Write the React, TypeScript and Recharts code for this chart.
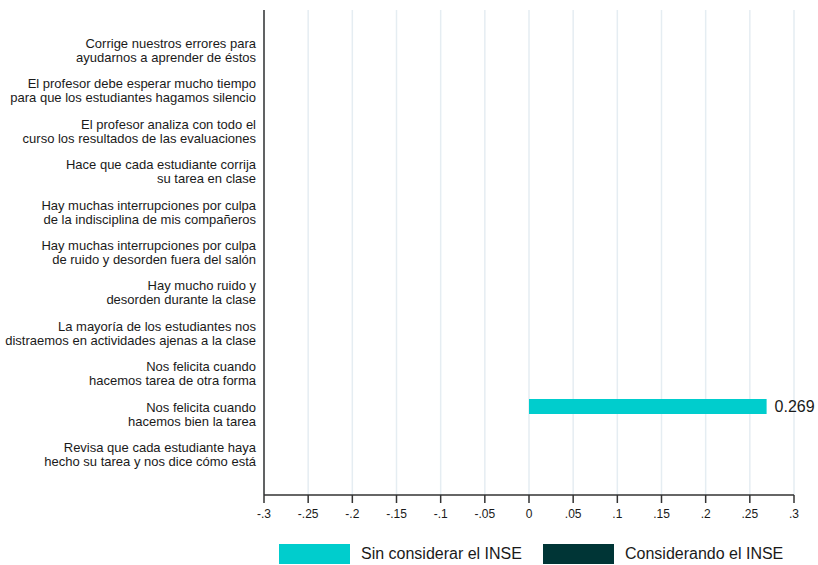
import { Bar, BarChart, CartesianGrid, LabelList, XAxis, YAxis } from "recharts";

const categories = [
  "Corrige nuestros errores para\nayudarnos a aprender de éstos",
  "El profesor debe esperar mucho tiempo\npara que los estudiantes hagamos silencio",
  "El profesor analiza con todo el\ncurso los resultados de las evaluaciones",
  "Hace que cada estudiante corrija\nsu tarea en clase",
  "Hay muchas interrupciones por culpa\nde la indisciplina de mis compañeros",
  "Hay muchas interrupciones por culpa\nde ruido y desorden fuera del salón",
  "Hay mucho ruido y\ndesorden durante la clase",
  "La mayoría de los estudiantes nos\ndistraemos en actividades ajenas a la clase",
  "Nos felicita cuando\nhacemos tarea de otra forma",
  "Nos felicita cuando\nhacemos bien la tarea",
  "Revisa que cada estudiante haya\nhecho su tarea y nos dice cómo está",
];

const sinInse = [null, null, null, null, null, null, null, null, null, 0.269, null];
const conInse = [null, null, null, null, null, null, null, null, null, null, null];

const xTicks = [-0.3, -0.25, -0.2, -0.15, -0.1, -0.05, 0, 0.05, 0.1, 0.15, 0.2, 0.25, 0.3];

const CYAN = "#00cdcd";
const DARK = "#003536";
const FONT = "'Liberation Sans', Arial, sans-serif";

const data = categories.map((label, i) => ({ label, sin: sinInse[i], con: conInse[i] }));

function formatTick(v: number) {
  if (v === 0) return "0";
  const s = String(Number(v.toFixed(2)));
  return s.replace(/^(-?)0\./, "$1.");
}

function CategoryTick(props: any) {
  const { x, y, payload } = props;
  const lines = String(payload.value).split("\n");
  const lineH = 14;
  const start = y - ((lines.length - 1) * lineH) / 2 + 4.5;
  return (
    <text textAnchor="end" fontSize={13} fill="#1a1a1a" fontFamily={FONT}>
      {lines.map((line, i) => (
        <tspan key={i} x={x} y={start + i * lineH}>
          {line}
        </tspan>
      ))}
    </text>
  );
}

function ValueLabel(props: any) {
  const { x, y, width, height, value } = props;
  if (value === null || value === undefined) return null;
  return (
    <text
      x={x + width + 8}
      y={y + height / 2 + 5.5}
      fontSize={16}
      fill="#1a1a1a"
      fontFamily={FONT}
    >
      {value.toFixed(3)}
    </text>
  );
}

function LegendItem({ color, text }: { color: string; text: string }) {
  return (
    <div style={{ display: "flex", alignItems: "center", marginRight: 21, whiteSpace: "nowrap" }}>
      <div style={{ width: 71, height: 20, background: color, marginRight: 11, flexShrink: 0 }} />
      <span style={{ fontSize: 16, color: "#1a1a1a", fontFamily: FONT, whiteSpace: "nowrap" }}>{text}</span>
    </div>
  );
}

export default function App() {
  return (
    <div style={{ position: "absolute", left: 0, top: 0, width: 818, height: 565, background: "#fff" }}>
      <BarChart
        width={818}
        height={565}
        data={data}
        layout="vertical"
        margin={{ top: 10, right: 24, bottom: 40, left: 0 }}
        barGap={0}
        barCategoryGap={5}
      >
        <CartesianGrid horizontal={false} stroke="#e5edf2" strokeWidth={1.5} />
        <XAxis
          type="number"
          domain={[-0.3, 0.3]}
          ticks={xTicks}
          tickFormatter={formatTick}
          height={30}
          axisLine={{ stroke: "#333", strokeWidth: 1.5 }}
          tickLine={{ stroke: "#333", strokeWidth: 1.5 }}
          tickSize={8}
          tickMargin={6}
          tick={{ fill: "#1a1a1a", fontSize: 12, fontFamily: FONT }}
          interval={0}
        />
        <YAxis
          type="category"
          dataKey="label"
          width={264}
          padding={{ top: 20, bottom: 20 }}
          axisLine={{ stroke: "#333", strokeWidth: 1.5 }}
          tickLine={false}
          tick={<CategoryTick />}
          interval={0}
        />
        <Bar dataKey="sin" name="Sin considerar el INSE" fill={CYAN} isAnimationActive={false}>
          <LabelList dataKey="sin" content={<ValueLabel />} />
        </Bar>
        <Bar dataKey="con" name="Considerando el INSE" fill={DARK} isAnimationActive={false} />
      </BarChart>
      <div style={{ position: "absolute", left: 279, top: 544, display: "flex", width: 539 }}>
        <LegendItem color={CYAN} text="Sin considerar el INSE" />
        <LegendItem color={DARK} text="Considerando el INSE" />
      </div>
    </div>
  );
}
